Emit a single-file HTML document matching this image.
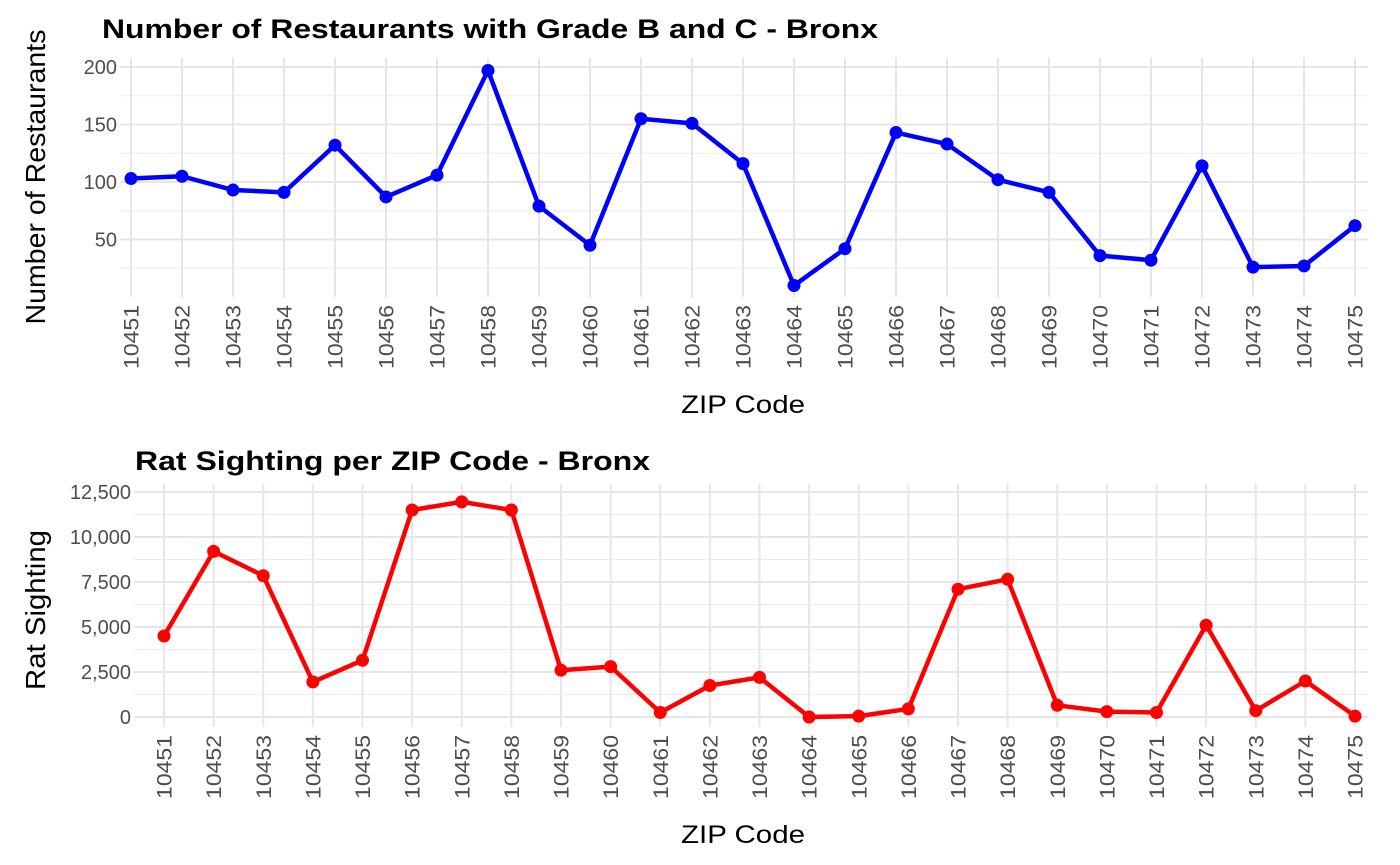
<!DOCTYPE html>
<html><head><meta charset="utf-8"><style>
html,body{margin:0;padding:0;background:#fff;}
svg{display:block;font-family:"Liberation Sans",Arial,sans-serif;}
</style></head><body>
<svg id="chart" width="1400" height="865" viewBox="0 0 1400 865">
<g id="top"></g>
<g id="bot"></g>
</svg>
<script>
const zips = ["10451","10452","10453","10454","10455","10456","10457","10458","10459","10460","10461","10462","10463","10464","10465","10466","10467","10468","10469","10470","10471","10472","10473","10474","10475"];
const restaurants = [103,105,93,91,132,87,106,197,79,45,155,151,116,10,42,143,133,102,91,36,32,114,26,27,62];
const rats = [4500,9200,7850,1950,3150,11500,11950,11500,2600,2800,250,1750,2200,0,50,450,7100,7650,650,300,250,5100,350,2000,50];
const topTicks = [50,100,150,200];
const topMinor = [25,75,125,175];
const botTicks = [0,2500,5000,7500,10000,12500];
const botMinor = [1250,3750,6250,8750,11250];
const NS="http://www.w3.org/2000/svg";
function mk(parent,tag,attrs,text){const e=document.createElementNS(NS,tag);for(const k in attrs)e.setAttribute(k,attrs[k]);if(text!==undefined)e.textContent=text;parent.appendChild(e);return e;}
function fmt(v){return v.toLocaleString('en-US');}
function panel(g,cfg){
  const {x0,x1,left,right,ptop,pbot,vmin,vmax,ymin,ymax,vals,ticks,minor,color,title,titleLen,ytitle,titleX,titleY,tickLabelY,xtitleY,ytitleX}=cfg;
  const xs=i=>x0+(x1-x0)*i/(zips.length-1);
  const ys=v=>ymax+(ymin-ymax)*(v-vmax)/(vmin-vmax);
  minor.forEach(v=>{const l=mk(g,'line',{x1:left,x2:right,y1:ys(v),y2:ys(v),stroke:'#ebebeb','stroke-width':1});
    });
  ticks.forEach(v=>{const l=mk(g,'line',{x1:left,x2:right,y1:ys(v),y2:ys(v),stroke:'#e6e6e6','stroke-width':2});
    
    const t=mk(g,'text',{x:left-3,y:ys(v)+7,'text-anchor':'end','font-size':20,fill:'#4d4d4d'},fmt(v));
    });
  zips.forEach((z,i)=>{const l=mk(g,'line',{x1:xs(i),x2:xs(i),y1:ptop,y2:pbot,stroke:'#e6e6e6','stroke-width':2});
    
    const t=mk(g,'text',{x:0,y:0,'text-anchor':'end','font-size':21,fill:'#4d4d4d',textLength:64,lengthAdjust:'spacingAndGlyphs',transform:`translate(${xs(i)+7.5},${tickLabelY}) rotate(-90)`},z);
    });
  const pts=vals.map((v,i)=>xs(i)+','+ys(v)).join(' ');
  const pl=mk(g,'polyline',{points:pts,fill:'none',stroke:color,'stroke-width':4.5,'stroke-linejoin':'round'});
  
  vals.forEach((v,i)=>{const c=mk(g,'circle',{cx:xs(i),cy:ys(v),r:6.5,fill:color});
    });
  const tt=mk(g,'text',{x:titleX,y:titleY,'font-size':27,'font-weight':'bold',fill:'#000',textLength:titleLen,lengthAdjust:'spacingAndGlyphs'},title);
  
  const xt=mk(g,'text',{x:743,y:xtitleY,'text-anchor':'middle','font-size':25,fill:'#000',textLength:124,lengthAdjust:'spacingAndGlyphs'},'ZIP Code');
  
  const yt=mk(g,'text',{x:0,y:0,'text-anchor':'middle','font-size':28,fill:'#000',textLength:cfg.ytitleLen,lengthAdjust:'spacingAndGlyphs',transform:`translate(${ytitleX},${cfg.ytitleC}) rotate(-90)`},ytitle);
  
}
panel(document.getElementById('top'),{x0:131,x1:1355,left:120,right:1368,ptop:58,pbot:297,vmin:50,vmax:200,ymin:239.5,ymax:67,
  vals:restaurants,ticks:topTicks,minor:topMinor,color:'#0000ff',title:'Number of Restaurants with Grade B and C - Bronx',titleLen:776,
  ytitle:'Number of Restaurants',ytitleLen:295,titleX:102,titleY:38,tickLabelY:305,xtitleY:413,ytitleX:45,ytitleC:177});
panel(document.getElementById('bot'),{x0:164,x1:1355,left:134,right:1368,ptop:484,pbot:727,vmin:0,vmax:12500,ymin:717,ymax:492,
  vals:rats,ticks:botTicks,minor:botMinor,color:'#ff0000',title:'Rat Sighting per ZIP Code - Bronx',titleLen:515,
  ytitle:'Rat Sighting',ytitleLen:160,titleX:135,titleY:470,tickLabelY:735,xtitleY:843,ytitleX:45,ytitleC:610});
</script>
</body></html>
